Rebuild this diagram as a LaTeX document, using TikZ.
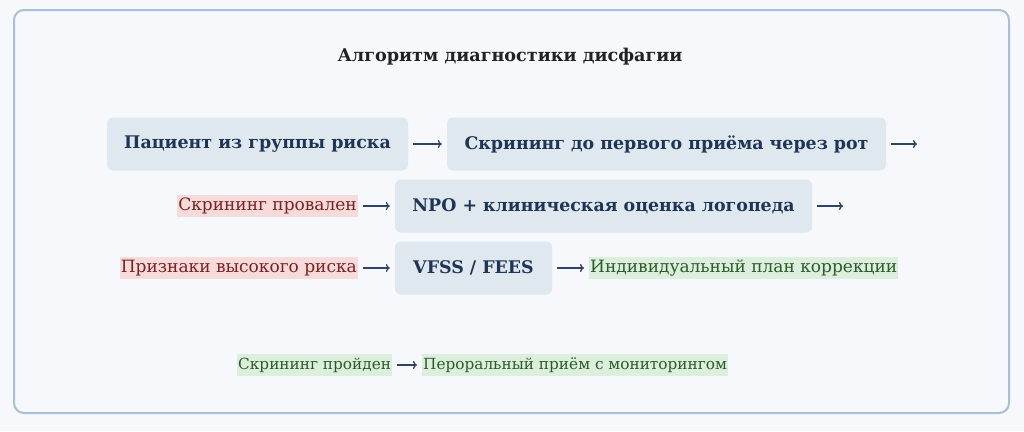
\documentclass[tikz,border=0pt]{standalone}
\usepackage{fontspec}
\setmainfont{DejaVu Serif}
\usetikzlibrary{arrows.meta}
\definecolor{bgc}{HTML}{F6F8FC}
\definecolor{framec}{HTML}{A9BFD8}
\definecolor{boxc}{HTML}{DFE7EF}
\definecolor{boxtext}{HTML}{1F3556}
\definecolor{titlec}{HTML}{222222}
\definecolor{arrc}{HTML}{2E4466}
\definecolor{redbg}{HTML}{F7DADA}
\definecolor{redtext}{HTML}{7B2222}
\definecolor{greenbg}{HTML}{DCEFDC}
\definecolor{greentext}{HTML}{2D5A2D}
\tikzset{
  stepbox/.style={fill=boxc, rounded corners=6pt, text=boxtext, font=\fontsize{17.4}{20}\selectfont\bfseries, inner sep=0pt, minimum height=53pt, align=center},
  redlab/.style={fill=redbg, text=redtext, font=\fontsize{17}{20}\selectfont, inner xsep=1pt, inner ysep=0pt, text height=15.5pt, text depth=6pt},
  greenlab/.style={fill=greenbg, text=greentext, font=\fontsize{17}{20}\selectfont, inner xsep=1pt, inner ysep=0pt, text height=15.5pt, text depth=6pt},
  greensmall/.style={greenlab, font=\fontsize{15.3}{18}\selectfont, text height=15pt, text depth=7pt},
  arr/.style={draw=arrc, line width=1.3pt, -{To[length=4pt,width=8pt]}, shorten <=5pt, shorten >=5pt},
}
\begin{document}
\begin{tikzpicture}[x=1pt,y=-1pt]
\useasboundingbox (0,0) rectangle (1024,431);
\fill[bgc] (0,0) rectangle (1024,431);
\draw[framec, line width=2pt, rounded corners=10pt, fill=bgc] (14,10) rectangle (1009,413);
\node[text=titlec, font=\fontsize{17.6}{21}\selectfont\bfseries] (title) at (510,57) {Алгоритм диагностики дисфагии};
% row 1
\node[stepbox, minimum width=301pt] (b1) at (257.5,144) {Пациент из группы риска};
\node[stepbox, minimum width=439pt] (b2) at (666.5,144) {Скрининг до первого приёма через рот};
\coordinate (e1) at (922,144);
\draw[arr] (b1) -- (b2);
\draw[arr] (b2.east) -- (e1);
% row 2
\node[stepbox, minimum width=417pt] (b3) at (603.5,206) {NPO + клиническая оценка логопеда};
\node[redlab, anchor=east] (l1) at (358,206) {Скрининг провален};
\coordinate (e2) at (848,206);
\draw[arr] (l1) -- (b3);
\draw[arr] (b3.east) -- (e2);
% row 3
\node[stepbox, minimum width=157pt] (b4) at (473.5,268) {VFSS / FEES};
\node[redlab, anchor=east] (l2) at (358,268) {Признаки высокого риска};
\node[greenlab, anchor=west] (g1) at (589,268) {Индивидуальный план коррекции};
\draw[arr] (l2) -- (b4);
\draw[arr] (b4) -- (g1);
% row 4
\node[greensmall, anchor=west] (g2) at (237,365) {Скрининг пройден};
\node[greensmall, anchor=west] (g3) at (422,365) {Пероральный приём с мониторингом};
\draw[arr] (g2) -- (g3);
\end{tikzpicture}
\end{document}
